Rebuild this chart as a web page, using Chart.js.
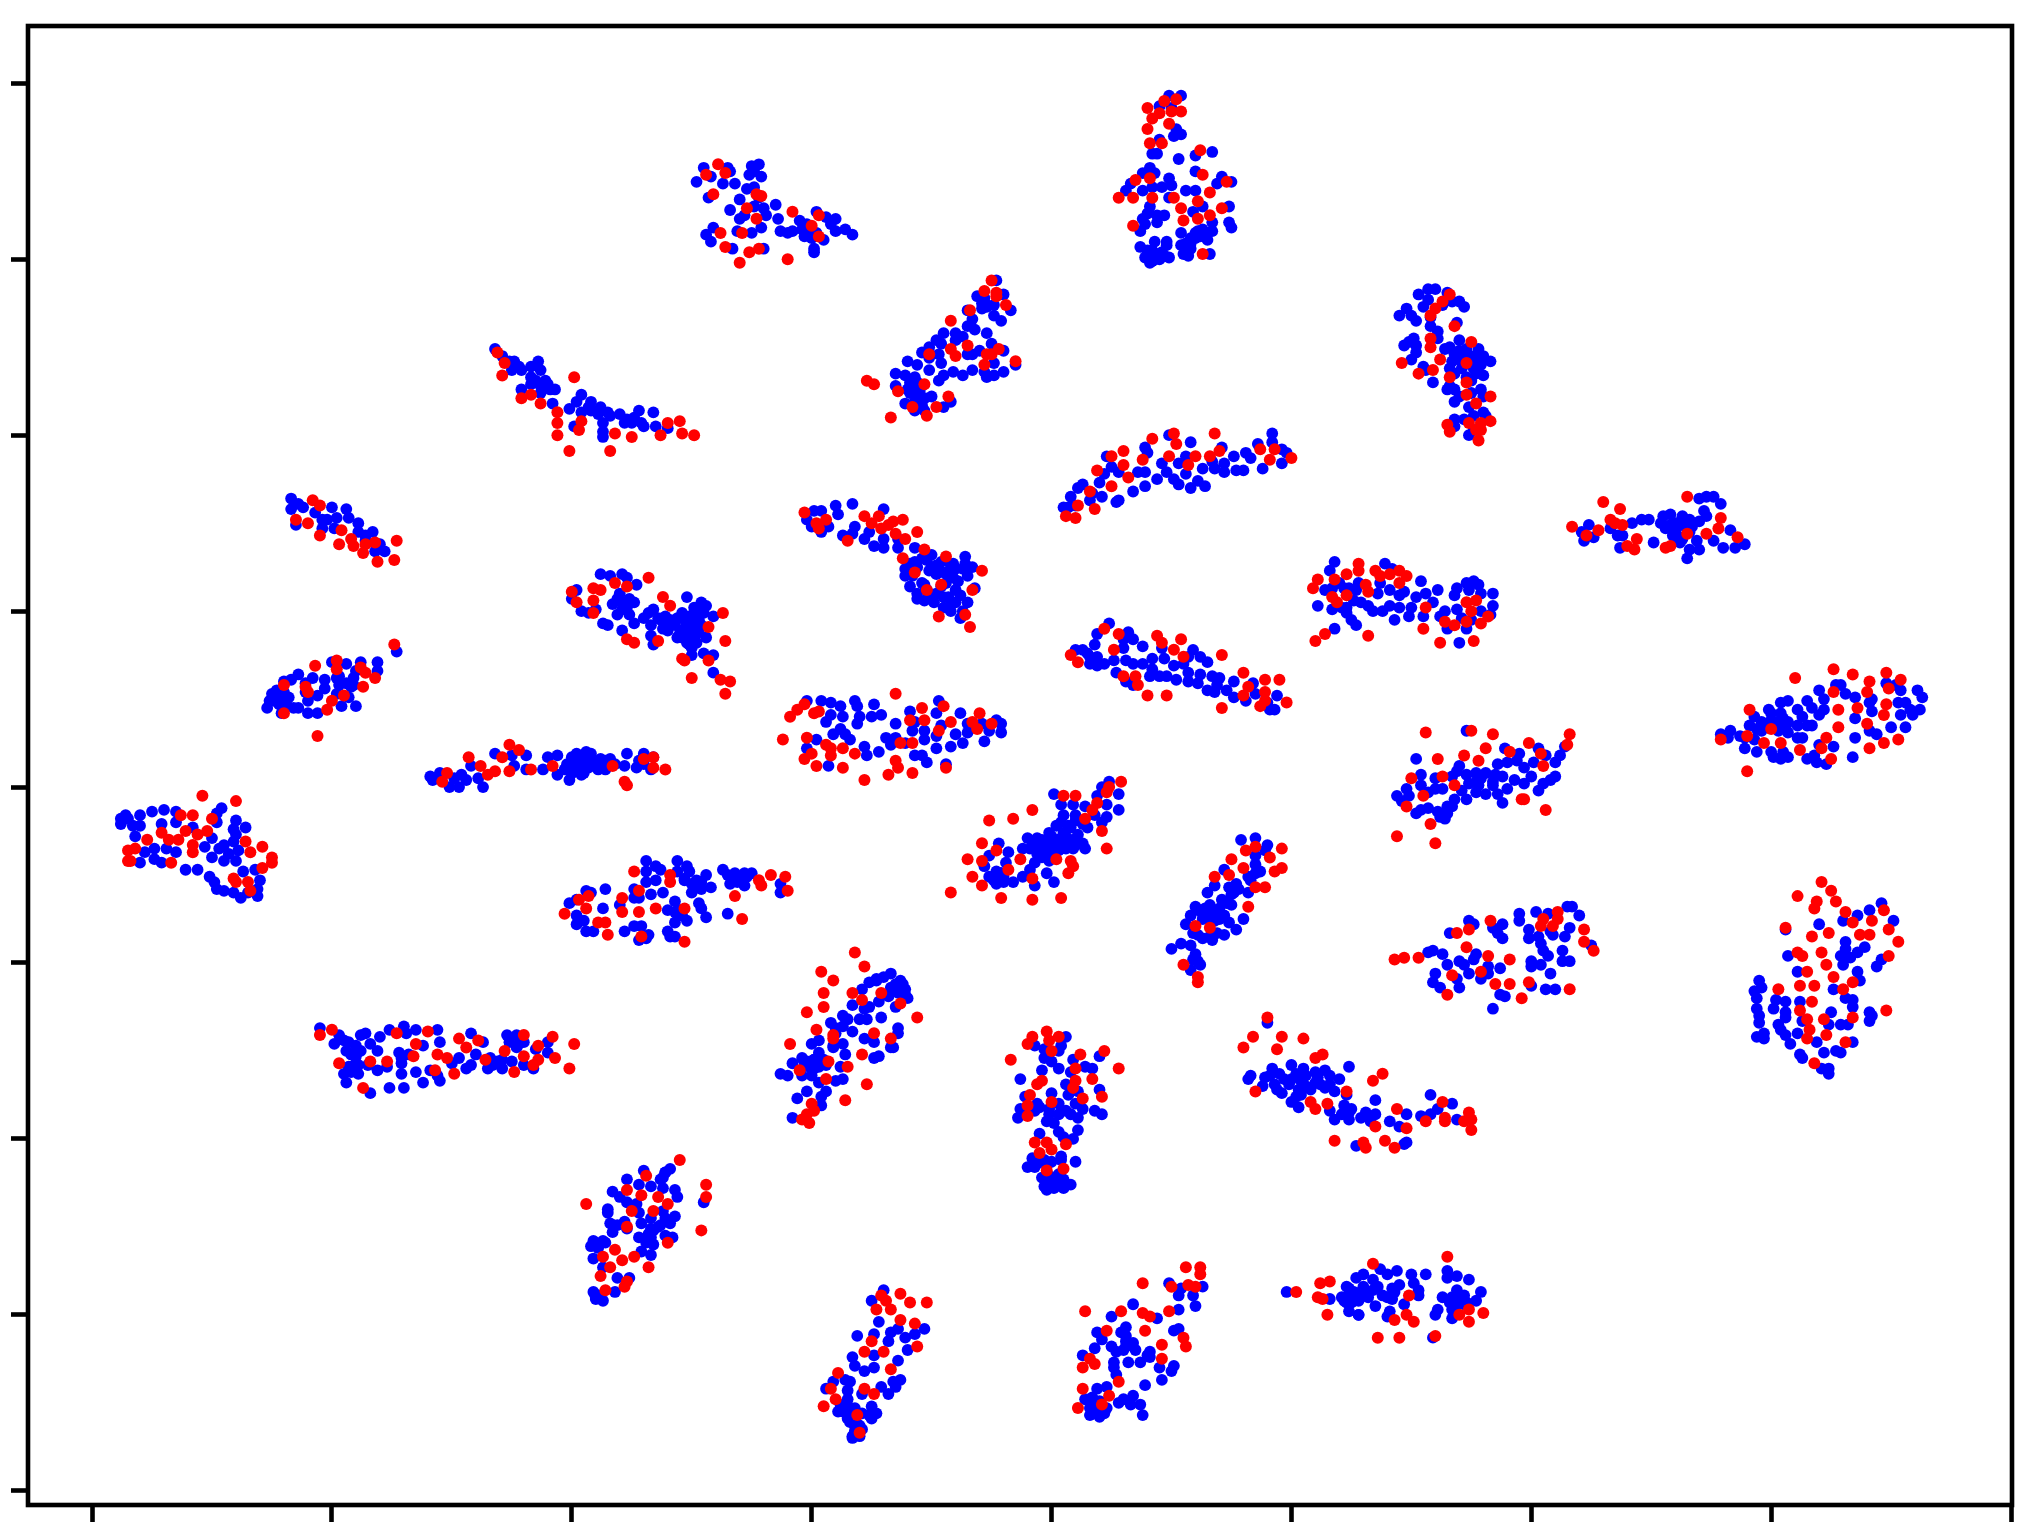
<!DOCTYPE html>
<html>
<head>
<meta charset="utf-8">
<title>Scatter</title>
<script src="https://cdn.jsdelivr.net/npm/chart.js@4/dist/chart.umd.min.js"></script>
<style>
  html, body { margin: 0; padding: 0; background: #fff; }
  canvas { display: block; }
</style>
</head>
<body>
<canvas id="grafico" width="2040" height="1536"></canvas>
<script>
/* ── Data: one X and one Y list of blue points, and x,y pairs of red points, per cluster ── */
const xTicks = [-40, -30, -20, -10, 0, 10, 20, 30, 40];
const yTicks = [-40, -30, -20, -10, 0, 10, 20, 30, 40];

const c01Bx = [-23.2,-22.9,-22.6,-22.4,-22.5,-22.1,-21.7,-21.4,-21.3,-21.7,-21.1,-21.7,-21.3,-22.1,-21.3,-20.7,-20.8,-20.1,-19.6,-19.8,-19.2,-19.6,-19.2,-18.8,-18.9,-18.4,-18,-18.7,-17.8,-17.4,-17.2,-17.5,-16.6,-17,-16.5,-16,-19.9,-18.7,-18.7];
const c01By = [24.9,24.5,24.2,24.2,23.7,23.7,23.9,24.2,23.7,23.3,23.1,22.9,22.8,22.6,22.4,22.6,21.8,21.5,22.3,21.9,21.9,21.3,21.4,21.6,21.2,21.1,21.2,20.7,20.7,21,21.4,20.7,21.3,20.5,20.5,20.4,20.5,20.2,19.9];
const c01R = [-23.1,24.7,-22.8,24.1,-22.9,23.4,-19.9,23.3,-21.7,22.3,-22.1,22.1,-21.3,21.8,-20.6,21.3,-20.6,20.7,-19.6,20.8,-19.7,20.3,-20.6,20,-18.2,20.1,-17.5,19.9,-16,20.7,-15.5,20.8,-16.3,20,-15.4,20.1,-14.9,20,-20.1,19.1,-18.4,19.1];

const c02Bx = [-31.7,-31.4,-31.7,-31.2,-31.5,-30.7,-30.4,-30,-29.4,-30.2,-29.8,-29.3,-30.4,-29.9,-28.9,-28.9,-28.6,-28.3,-28.6,-28,-28.2,-27.8];
const c02By = [16.4,16.1,15.8,15.9,14.9,15.6,15.2,15.9,15.8,15.2,15.3,15.3,14.7,14.7,15,14.5,14.3,14.5,14,13.8,13.4,13.4];
const c02R = [-30.8,16.3,-30.5,16,-31.5,15.2,-31,15,-30.5,14.3,-29.6,14.6,-29.7,13.8,-29.2,14.1,-29.1,13.7,-28.6,13.8,-28.7,13.3,-28.2,13.9,-27.3,14,-28.1,12.8,-27.4,12.9];

const c03Bx = [-27.3,-28.1,-28.1,-28.8,-29.4,-30,-29,-29.1,-29.1,-30.3,-30.8,-31.1,-31.4,-31.7,-32,-32.3,-32.5,-32.6,-32.7,-32.1,-31.8,-31.6,-31.4,-32.1,-31,-30.6,-31,-30.6,-30.3,-29.8,-29.7,-29.8,-29.3,-29.6,-29,-31.1,-29.2];
const c03By = [7.7,7.1,6.6,7.1,7,7.1,6.6,6.2,5.8,6.1,6.2,5.9,6.4,6.1,6,5.5,5.3,4.9,4.5,5,5.1,4.5,4.5,4.2,4.2,4.2,4.9,5.2,5.6,6.2,5.8,5.3,5.1,4.6,4.6,5.4,5.7];
const c03R = [-27.4,8.1,-29.8,7.2,-29.8,6.7,-30.7,6.9,-28.8,6.8,-28.6,6.5,-28.2,6.2,-28.7,5.7,-32,5.8,-31.1,5.7,-31,5.4,-29.5,5.2,-30,4.9,-30.2,4.4,-32,4.2,-30.6,2.9];

const c04Bx = [-38.8,-38.6,-38.5,-38.8,-38.3,-38,-38,-37.5,-37,-36.5,-37.1,-36.5,-35.8,-34.6,-34.8,-34.8,-34,-33.6,-34.1,-34,-35,-34.1,-34.5,-38.2,-37.4,-37.8,-38,-37.4,-37.1,-36.9,-36.5,-35.3,-34.7,-34.3,-33.9,-35,-34.5,-34,-36.1,-35.6,-35.1,-34.9,-34.8,-34.5,-34.1,-33.8,-33.7,-33.2,-33,-33.1,-33.1,-33.5];
const c04By = [-1.8,-1.6,-1.8,-2.1,-2.2,-1.6,-2.2,-1.4,-1.3,-1.4,-2.1,-2,-2.3,-1.2,-1.5,-2,-1.9,-2.3,-2.4,-2.7,-2.9,-3.1,-3.3,-2.8,-3.5,-3.7,-4.3,-4.1,-4.3,-3.5,-3.7,-3.4,-3.5,-3.8,-3.6,-4,-4.2,-4.2,-4.7,-4.7,-5.1,-5.4,-5.8,-5.9,-6,-6.3,-4.8,-4.7,-5.3,-5.8,-6.2,-6];
const c04R = [-35.4,-0.5,-34,-0.8,-36.3,-1.6,-35.8,-1.6,-35,-1.8,-36.1,-2.5,-35.2,-2.5,-35.6,-2.7,-37.1,-2.6,-36.8,-3,-36.4,-3,-37.7,-3,-38.2,-3.5,-38.5,-3.6,-35.8,-3.3,-35.8,-3.7,-38.5,-4.2,-38.4,-4.2,-36.7,-4.3,-33.6,-3.1,-32.9,-3.4,-33.4,-3.7,-32.5,-4,-32.5,-4.3,-32.9,-4.6,-34.1,-5.2,-34,-5.4,-33.5,-5.4,-33.4,-5.9];

const c05Bx = [-25.9,-25.8,-25.5,-25.1,-24.7,-24.9,-24.6,-24.4,-24.2,-23.9,-23.7,-23.2,-22.5,-21.9,-22.4,-21.9,-21.2,-21,-20.6,-20.6,-20.1,-20.2,-20,-19.8,-19.4,-19.2,-19.8,-19.5,-19.6,-19,-18.8,-18.6,-18.4,-17.8,-17.7,-17.3,-17,-16.6,-16.7,-18.2,-20.3,-19.4,-20];
const c05By = [0.6,0.4,0.8,0,0,0.5,0.7,0.4,1.2,0.5,0,1.9,1.8,1.8,1.2,1,1,1.7,1.8,0.7,0.4,1.3,1.7,1.9,2,1.9,1.2,0.8,0.7,1.3,1.6,1,1.6,1.2,1.9,1.1,1.9,1.7,1,1.3,1,1.4,0.8];
const c05R = [-25.2,0.8,-25.4,0.3,-24.3,1.7,-23.8,1.2,-23.5,0.7,-23.2,0.9,-22.9,1.7,-22.6,2.4,-22.2,2.1,-22.6,0.9,-21.7,1,-20.8,1.2,-18.3,1.2,-17,1.6,-16.6,1.7,-16.6,1.1,-16.1,1,-17.8,0.3,-17.7,0.1];

const c06Bx = [-19.8,-20,-19.6,-19.3,-19,-18.8,-18.4,-17.9,-17.7,-17.3,-18,-18.3,-17.9,-17.6,-17.4,-18.1,-18.7,-18.5,-17.9,-17.6,-17.4,-17,-16.8,-16.6,-16.7,-16.7,-16.6,-16.2,-16.4,-16.1,-15.9,-15.6,-16,-15.6,-15.3,-15.4,-15.2,-14.9,-14.6,-14.4,-14.1,-15.1,-14.7,-15.2,-14.9,-14.4,-15,-15,-14.5,-14.1,-14.1,-14.9,-14.7];
const c06By = [11.2,10.7,10,9.9,10.1,12.1,12,12.1,11.9,11.5,11,10.4,10.5,10.7,10.5,9.8,9.3,9.2,8.9,9.8,9.3,9.6,9.9,10.1,9.2,8.6,8.1,9,9.6,9.7,9.5,9.6,8.9,8.5,9,8.5,10.8,10.2,10.5,10.3,9.7,9.7,9.5,8.2,8.4,8.5,7.9,7.5,7.6,7.5,6.5,9,10];
const c06R = [-16.8,11.9,-18.2,11.6,-17.7,11.4,-19.1,11.3,-18.8,11.2,-20,11.1,-19.8,10.5,-19.1,10.6,-19.1,9.9,-16.2,10.8,-15.9,10.3,-13.7,9.9,-14.3,9.1,-13.6,8.3,-16.4,8.3,-17.7,8.4,-17.4,8.2,-15.4,7.3,-15.3,7.2,-14.3,7.2,-15,6.2,-13.8,6.1,-13.4,6,-13.6,5.3];

const c07Bx = [-14.5,-13.5,-13.4,-14.2,-14.8,-13.7,-13.2,-12.5,-12.2,-12.4,-12.6,-12.1,-14.3,-12.7,-12.4,-13,-12.2,-11.5,-13.4,-12,-11.9,-12.4,-13,-12.8,-12.1,-14.1,-14.4,-14.2,-13.1,-12.5,-13.3,-12,-11.4,-11.3,-10.8,-10.5,-10.4,-10.2,-9.8,-9.4,-9,-9.2,-9,-8.6,-8.3,-9.5,-9.9,-9.9,-10.3,-11];
const c07By = [35.2,35.2,35,34.7,34.4,34.3,34.3,35.3,35.4,35,34.8,34.7,33.5,34,34.1,33.4,33.5,33.1,32.8,32.9,32.5,33,32.3,32.5,31.8,31.8,31.4,31,31.6,31.5,30.6,30.6,32.3,31.6,31.6,32.2,31.7,32,32.7,32.4,32.3,32,31.6,31.7,31.4,31.1,30.6,30.4,31.3,31.5];
const c07R = [-13.9,35.4,-14.4,34.8,-13.6,34.9,-14.1,33.7,-12.3,33.7,-12.1,33.6,-12.7,32.9,-12.3,32.3,-10.8,32.7,-9.7,32.5,-10,31.9,-9.7,31.3,-13.8,31.5,-12.9,31.5,-13.6,30.7,-12.2,30.6,-12.6,30.4,-13,29.8,-11,30];

const c08Bx = [4.9,5.4,5,4.5,5.2,5.4,5.1,4.5,4.2,4.4,5.3,6,6.7,4.1,3.8,4.3,6,4.9,7.1,7.5,6.9,3.3,3.1,4.2,4.6,5,3.8,5.6,6,4.9,6.3,7.4,4.1,4,3.8,4.7,4.4,5.9,4.4,3.9,3.7,5.4,7.4,7.5,6.7,6.3,6.7,6.5,6.2,5.8,4.3,4.8,3.7,4,4.2,4.8,4.9,4.5,4.1,3.9,5.4,5.8,5.7,6.6];
const c08By = [39.3,39.3,38.6,38.7,37.4,37.1,37,36.8,36,36,35.7,35.9,36.1,35.2,34.9,34.9,35,34.6,34.7,34.4,34.3,34.3,33.9,34.1,34.1,34.2,33.9,33.9,33.9,33.5,33,33,33,32.6,32.3,32.5,32.5,32.7,32.1,32,31.6,31.5,32.1,31.8,32.1,31.7,31.6,31.1,31.3,31.2,31,31,30.7,30.5,30.2,30.8,30.1,30,29.8,30.1,30.8,30.6,30.2,30.3];
const c08R = [4.7,39,5.2,39.1,4,38.6,4.5,38.3,4.2,38,5,38.4,5.4,38.4,4.9,37.7,4,37.4,4.1,36.6,4.6,36.6,6.2,36.2,6.3,34.8,3.5,34.5,4.1,34.6,7.3,34.4,6.6,33.8,2.8,33.5,3.4,33.5,4.2,33.5,5.1,33.5,6.1,33.3,5.4,32.9,7.1,32.9,5.5,32.2,6.1,32.3,6.6,32.5,3.4,31.9,6.3,30.3];

const c09Bx = [-2.3,-2,-3.1,-2.8,-2.7,-3.5,-2.9,-2.4,-2.4,-1.7,-2.1,-3.3,-3.5,-3.2,-2.7,-4.5,-4,-3.7,-4,-4.8,-4.6,-2.5,-5.1,-5.4,-3,-2,-4.7,-5.1,-3.5,-3.3,-6,-5.6,-4.6,-5.1,-2.4,-1.5,-4.7,-4.5,-4.1,-3.7,-3.3,-2.8,-2.7,-2.4,-2,-6.5,-6.1,-5.7,-6.5,-5.9,-5.4,-5.9,-5.6,-5,-6.1,-5.4,-5.3,-5.7,-4.5,-4.2];
const c09By = [28.8,28,27.9,27.8,27.4,27.1,27.2,27.4,26.8,27.1,26.5,26.6,26.2,26,25.8,25.8,25.8,25.6,25.4,25.4,25.2,25.2,25,24.7,24.8,24.8,24.6,24.4,24.6,24.6,24.2,24,24.1,23.7,24.1,24,23.1,23.4,23.6,23.4,23.7,23.6,23.3,23.4,23.6,23.5,23.4,23.3,22.8,22.8,22.8,22.4,22.2,22.2,21.8,21.7,21.4,21.4,21.6,21.9];
const c09R = [-2.5,28.8,-2.8,28.2,-2.3,28.1,-2.3,27.9,-1.9,27.4,-3.4,27.1,-4.2,26.5,-3.5,25.1,-4.2,24.9,-4,24.5,-5.1,24.6,-2.2,24.9,-2.5,24.6,-2.7,24.6,-2.8,24,-1.5,24.2,-7.7,23.1,-7.4,22.9,-5.3,22.9,-6.4,22.5,-4.3,22.2,-5.8,21.6,-4.8,21.6,-5.2,21.1,-6.7,21];

const c10Bx = [9.2,8.6,7.1,5.8,4.9,3.9,4,2.3,7.6,8.1,8.3,9.6,9.2,9.6,9.8,5.6,4.6,5.3,6.3,6.7,6.8,7.2,7.2,7.7,8,8.8,2.5,2.8,2.2,2,3.6,3.9,4.8,5.6,5.1,5.3,5.8,6.4,6.1,4.4,3.9,3.4,2.8,2.7,1.3,1.1,0.8,0.5,1.7,2.1,1.6,1,0.7];
const c10By = [20.1,19.5,19.3,19.6,20,19.3,19,18.8,18.8,19,18.7,18.4,19.6,19.2,19,18.8,18.4,18.4,18.1,18.5,18.1,18.4,17.9,18,18,18.1,18.2,17.9,17.8,17.3,17.9,17.9,17.9,17.8,17.5,17.2,17,17.1,17.4,17.5,17.1,16.8,16.3,16.2,17.2,17,16.5,15.9,16.7,16.5,16.3,16,15.9];
const c10R = [5.1,20.1,6.8,20.1,4.2,19.8,5.2,19.5,3,19.1,2.5,18.8,4.9,18.8,6,18.8,6.6,18.8,7,19.1,8.7,19.2,9.3,19.2,10,18.7,9.1,18.6,3.8,18.6,3,18.3,5.7,18.3,1.9,18,3.2,17.6,2.5,17.1,1.6,16.8,1.1,16,1.8,15.8,0.6,15.4,1,15.3];

const c11Bx = [-9,-8.3,-7,-9.9,-9.6,-8.9,-10.2,-9.3,-10,-9.6,-8.2,-8.7,-8.3,-7.6,-7.8,-7,-7.4,-7,-6.4,-6.4,-5.7,-5,-5.7,-5.4,-6.1,-6.1,-5,-4.6,-4.2,-3.6,-3.7,-3.3,-4.8,-4.3,-3.5,-5.4,-5.9,-5.6,-5.3,-4.9,-4.6,-4,-4.5,-4.2,-3.5,-3.2,-3.7,-4.2,-3.8,-5.2];
const c11By = [16,16.1,15.8,15.7,15.7,15.5,15.2,14.8,14.8,14.5,14.8,14.3,14.4,14.5,14.1,14.1,13.7,13.6,14.1,13.6,13.6,13.2,12.8,13,12.4,12,12.5,12.8,12.6,13.1,12.4,12.5,12.1,12,12,11.6,11.4,10.7,10.6,10.5,11.4,11.2,10.8,10.4,10.5,11.3,10,10,9.6,11.2];
const c11R = [-10.3,15.6,-9.8,15,-9.4,15.2,-9.7,14.7,-8.5,14,-7.8,15.4,-7.5,15,-7.2,15.4,-7.1,14.7,-6.8,14.9,-6.6,15.1,-6.2,15.2,-6.5,14.4,-5.6,14.5,-6.1,14.1,-5.3,13.5,-6.2,13,-4.4,13.1,-5.7,12.2,-2.9,12.3,-4.6,11.5,-5.2,11.2,-3.3,11.2,-3.6,9.8,-4.7,9.7,-3.4,9.1];

const c12Bx = [15.3,15.7,16,16.5,15.7,15.5,16.3,16.7,17,17.2,14.5,14.8,15,15.2,15.8,15.8,16.1,16.1,16.9,15.1,14.9,14.7,15.2,15.2,15,17,16.4,16.6,17.8,16.8,17.2,17.5,18,18.3,16.7,17.9,16.6,16.8,15.5,15.6,15.9,17.7,18,17.3,17.5,16.6,16.8,16.5,17.9,17.5,18,17,16.8,17.4,18,17.6,18.1,16.8,17.2,16.8,17.4,17.6];
const c12By = [28,28.3,28.3,28.1,27.7,27.3,27.4,27.6,27.6,27.3,26.8,27.2,26.8,26.5,26.7,26.2,25.9,25.5,26.4,25.5,25.3,25.1,25.1,24.7,24.3,25.4,24.9,25,24.9,24.6,24.7,24.5,24.5,24.2,24.2,24,23.8,23.5,23.9,23.7,23,23.5,23.4,23.3,23.1,22.8,22.6,22.6,22.6,22.4,22.2,22.2,21.9,21.6,21.3,21.1,21.1,20.9,20.9,20.5,20,20.3];
const c12R = [16.6,28,16.3,27.6,16,27.2,15.8,26.8,16.8,26.2,15.8,25.5,15.8,25,17.5,25.3,16.2,24.3,14.6,24.1,17.3,24.1,15.9,23.7,15.3,23.5,16.6,23.3,17.3,23,17.3,22.3,18.3,22.2,17.7,21.8,17.4,20.7,18.3,20.8,17.9,20.7,16.5,20.6,16.6,20.2,17.7,20.3,17.9,20.3,17.8,19.7];

const c13Bx = [27,27.3,27.6,27.9,27.2,27.3,25.5,25.8,26.3,25.4,24.2,24.6,24.9,25.6,26.1,26.6,27,26,26.5,26.9,26.2,26.6,27,26.5,28.3,27.6,28,28.5,28.9,25.1,23.7,22.4,22.1,22.2,22.6,23.3,23.6,23.8,26.2];
const c13By = [16.4,16.5,16.5,16.1,15.7,15.4,15.4,15.5,15.4,15,15,15.2,15.2,14.7,15,15.2,15.1,14.5,14.7,14,13.9,13.5,13.5,13,14.6,14,13.6,13.6,13.8,13.9,13.6,14.9,14.5,14,14.2,14.7,14.3,14.3,14.2];
const c13R = [26.5,16.5,23,16.2,23.7,15.8,23.3,15.2,23.5,15,23.8,14.9,21.7,14.8,22.8,14.6,22.3,14.3,24.4,14.1,24,13.7,24.3,13.5,25.6,13.6,25.8,13.7,26.5,14.4,27.3,14.4,27.8,14.7,27.9,15.3,28.6,14.2];

const c14Bx = [11.8,11.6,12,11.7,11.4,12.2,12.4,12.8,12.7,11.1,11.7,12.1,12.3,12.6,12.9,13.2,12.3,12.5,12.7,13.4,13.9,14.2,13.7,13.6,14.1,14.1,13.8,14.5,14.7,14.5,15,14.3,14.9,15.2,15.4,15.6,15.9,16.1,15.5,16.2,16.4,16.9,16.8,16.9,17.3,17.6,17.8,17.9,17.4,18.4,18.4,17.9,18.3,17.1,17.5,16.5,17.3,17,11.8];
const c14By = [12.8,12.3,11.6,11.3,11.2,11.3,11.3,11.6,11.2,10.3,10.1,10.2,10.2,10.6,10.5,10.3,9.9,9.5,9.2,10,12.7,12.4,11.6,11,11.2,10.3,10,10.9,11.1,10.2,10.2,9.5,9.7,10.8,11.7,11,10.5,11.2,9.7,9.7,10,10.1,10.9,11.3,11.6,11.7,11.5,11,11.2,11,10.3,10,9.8,9.6,9.5,9,9,8.2,9];
const c14R = [12.8,12.7,12.8,12.3,12.3,12.1,11.1,11.8,11.8,11.8,10.9,11.3,13.5,12.3,13.7,12,14.1,12.1,14.5,12.3,14.8,12,14.5,11.6,13.1,11.5,13.2,11.1,11.7,10.8,11.9,10.5,12.3,10.9,15.6,10.2,17.3,10.5,17.7,10.6,17.5,10,18.2,9.7,17.9,9.3,17.3,9.4,16.8,9.2,16.4,9.4,15.5,9,13.2,8.6,11.4,8.7,11,8.3,16.2,8.2,17.6,8.3];

const c15Bx = [2.4,1.9,3.2,3,3.4,3.8,3,1,1.3,1.8,1.6,1.9,1.5,2.6,2.2,1.9,1.6,3.1,3.4,3.8,4.2,4.7,4.6,5.1,5.9,6.2,6.5,5.7,5.5,2.7,4.2,4.1,4.5,4.8,5.2,5.7,5.7,6.2,6.1,6.5,6.7,7,6.9,6.8,7.6,7.3,7.6,3.1,3.4,8.4,8.1,8.5,9.4,9.1,9.3,9];
const c15By = [9.3,8.7,8.8,8.4,8.4,8,7.9,7.8,7.8,8.1,7.4,7.4,7.6,7.2,7,6.9,7,7.2,7,7,7.3,7.3,7.9,6.9,7.8,7.4,7.1,7.4,7,6.5,6.7,6.3,6.3,6.3,6.1,6.5,6,6.4,5.9,5.5,6.3,6.2,5.8,5.4,6,5.5,5.1,6,5.8,5.9,4.9,5.3,5.2,4.4,4.4,4.8];
const c15R = [2.2,9,2.8,8.7,2.6,7.8,0.8,7.5,1.1,7.1,4.4,8.6,4.6,8.2,5.4,8.4,5.1,7.8,5.5,7.4,7.1,7.5,3,6.3,3.5,6.3,3.6,5.8,4,5.2,4.8,5.2,7.1,4.5,8,6.5,8.2,5.7,8,5.2,8.9,6.1,9.5,6.1,8.9,5.4,8.9,4.9,8.7,4.6,9.8,4.8];

const c16Bx = [-10.2,-9.6,-9.2,-8.8,-8.2,-8.1,-7.4,-7.1,-7.5,-8,-8.7,-9.2,-9.4,-8.1,-8.8,-9.1,-8.6,-8.4,-9.8,-10.2,-7.8,-7.7,-7.2,-9.3,-6.5,-6.9,-6.5,-6.7,-5.9,-5.7,-5.8,-5.3,-4.7,-4.8,-4.6,-4.8,-5.3,-4.8,-4.2,-3.8,-3.5,-3.5,-4,-3.7,-2.9,-2.6,-2.3,-2.1,-2.1,-2.8,-5.7,-5.4,-5.2,-4.4,-6.1];
const c16By = [4.9,4.9,4.8,4.6,4.9,4.6,4.7,4.1,4,4,4,4.1,3.7,3.6,3.3,3,3,2.7,2.7,2.2,2.3,1.8,2,1.2,3.6,2.8,2.8,2.4,4.3,3.7,3.2,3.2,4.9,4.2,3.5,2.9,2.7,2.2,2.3,4.2,3.6,3.1,3,2.5,3.6,3.2,3.8,3.6,3.1,2.6,1.8,1.8,1.4,1.3,2.5];
const c16R = [-6.5,5.3,-10.3,4.7,-10.6,4.4,-9.9,4.2,-9.7,4.3,-10.9,4,-5.4,4.5,-4.5,4.6,-5.9,3.8,-5.3,3.8,-4.2,3.7,-4.7,3.2,-3,4.2,-3.3,3.7,-3.1,3.3,-2.5,3.6,-11.2,2.7,-10.2,2.8,-9.4,2.4,-9.2,2.2,-8.7,2.2,-9.2,1.8,-8.2,1.9,-10,1.9,-10.3,1.6,-9.8,1.2,-8.7,1.1,-6.3,2.5,-5.8,2.5,-6.5,1.5,-6.4,1.1,-6.8,0.7,-5.8,0.8,-7.8,0.4,-4.4,1.1];

const c17Bx = [2.4,2.1,2.8,1.9,2.3,2.8,0.1,0.4,0.9,1.4,1.8,2.3,2.1,0.5,1,0.4,0.2,0.8,1.5,1.1,1.3,1.4,-0.1,-1,-0.6,-1.2,-0.2,0.1,0.6,0.5,1,-0.7,-0.4,0.3,0.6,-0.2,-0.6,0.1,-0.1,-0.7,-2.2,-1.8,-2.6,-1.9,-2.8,-2.3,-2.1,-2.6,-2.3,-2,-1.6,-1.2,-0.9,-0.7,-0.2,0.1];
const c17By = [0.3,0,-0.4,-0.5,-1,-1.3,-0.4,-1,-1,-1.1,-1.6,-1.7,-2,-1.6,-1.6,-2,-2.2,-2.3,-2.3,-2.7,-3.2,-3.5,-2.6,-2.9,-2.9,-3.5,-3.1,-3,-2.8,-3.2,-3.3,-3.4,-3.6,-3.6,-3.5,-3.8,-3.8,-3.9,-4.2,-4.3,-3.2,-3.7,-3.9,-4.3,-4.5,-4.8,-4.9,-5.1,-5.5,-5.4,-5.4,-5.1,-4.7,-5.6,-4.9,-5.4];
const c17R = [2.9,0.3,2.4,0,2.3,-0.3,0.5,-0.5,1,-0.5,1.9,-0.9,1.7,-1.3,1.4,-1.8,-0.8,-1.3,-1.6,-1.8,-2.6,-1.9,2.1,-2.5,2.3,-3.5,-2.9,-3.2,-2.3,-3.6,-3.5,-4.1,-2.9,-4.2,-1.3,-4.1,0.2,-4.1,0.8,-4.2,0.9,-4.5,-1.8,-4.7,0.7,-4.9,-3.3,-5.1,-0.8,-5.2,-2.9,-5.6,-4.2,-6,-2.1,-6.3,-0.8,-6.4,0.4,-6.3];

const c18Bx = [7.9,8.5,9,8.9,8.5,8.5,8.7,7.2,8.2,7.7,7.4,6.8,6.5,7.6,8.2,7.1,7.5,6.6,6,5.8,6.3,6.8,7.2,6.8,8,5.6,5.9,6.3,6.7,7.2,7.4,7.7,5.4,5,5.8,6,6.2,5.8];
const c18By = [-3,-2.9,-3.3,-3.6,-3.9,-4.4,-4.8,-4.7,-5.1,-5.5,-5.7,-5.6,-6,-6,-6,-6.4,-6.7,-6.7,-6.8,-7.3,-7.2,-7.2,-7.3,-7.6,-7.5,-7.8,-8.3,-8.6,-8.7,-8.4,-7.7,-8.1,-8.9,-9.2,-9,-9.5,-10.1,-10.4];
const c18R = [8.5,-3.4,8.1,-3.6,9.6,-3.5,7.5,-4.1,9.1,-4,8,-4.6,9.6,-4.6,9.3,-4.8,6.8,-5.1,7.4,-5,8.5,-5.7,8.9,-5.7,8.2,-6.8,6,-7.9,6.6,-8,5.5,-10.1,6.1,-10.8,6.1,-11.1];

const c19Bx = [17.3,18.9,15.2,17,16.9,16,15.4,15.4,16,16.3,14.8,14.4,14.6,14.9,15.7,16.7,17.3,17.7,18.1,18.5,18.8,19.3,18.6,19,19.5,19.4,19.7,20.1,20.3,20.6,21.4,21.2,21,20,19.7,21,20.8,20.5,20.3,17.7,17.4,17.1,17.7,18.1,18.4,18.6,19,18.8,17.3,16.8,16.7,16.5,16.1,16.4,15.7,15.2,15.4];
const c19By = [3.2,2.2,1.6,1.2,0.9,0.5,0.7,0.1,-0.1,-0.1,-0.1,-0.5,-0.8,-0.5,-0.3,0.6,0.7,0.8,0.8,0.7,0.6,0.4,1.3,1.4,1.9,1.5,1.1,1.4,2.2,1.8,2.3,1.8,1.4,0.6,0.2,0.6,0.4,0.2,-0.2,0.3,0.2,-0.2,-0.3,-0.4,0.1,-0.4,-0.1,-0.9,-0.7,-0.7,-1.1,-1.1,-1.4,-1.8,-1.2,-1.5,-1.3];
const c19R = [15.6,3.1,17.5,3.2,18.4,3,21.6,3,21.5,2.4,19.9,2.5,18.1,2.2,17.2,1.8,16.1,1.6,17.8,1.5,19.1,2,20.4,1.9,20.5,1.2,15,0.5,16.3,0.6,16.8,0.1,15.5,-0.5,14.8,-1.1,19.6,-0.7,19.7,-0.7,20.6,-1.3,15.8,-2.1,14.4,-2.8,16,-3.2];

const c20Bx = [32.7,32.9,33.1,33.5,32,32.2,31.5,31.7,32.2,32,30.4,30.7,31.1,29.9,30,29.3,30.4,31.3,31.5,31.7,29.1,29.6,29.9,30.3,30.7,31.1,29.6,30.3,30.7,31.1,31.3,27.9,28.3,28.2,28.7,28.9,28.9,29.4,29.3,30,30.1,30.4,30.7,30.5,31.5,31.8,31.9,32.3,32,32.6,33.4,33.5,34.1,34.4,35,35.6,33.5,34.2,34.1,34.2,35.3,35.6,35.4,35.9,36.2,35.8,36.1,36.3,35.4,34.8,35.2];
const c20By = [5.8,5.8,5.3,5.1,5.5,5,4.9,4.5,4.4,4.1,4.8,4.9,4.4,4.4,4.2,4,4.2,4,3.5,3.5,3.5,3.7,3.6,3.7,3.7,3.5,3.2,3.2,3.1,2.8,2.8,3,3.2,2.8,2.9,2.8,2.2,2,2.7,2,1.7,1.6,1.7,2,1.6,1.8,1.4,1.3,2.4,2.3,1.7,2.8,3.2,3,3.4,3.4,3.9,4.3,4.8,5,4.8,4.8,4.1,4.1,4.4,4.4,5.5,5.1,5.5,5.9,5.8];
const c20R = [32.6,6.7,33.4,6.4,31,6.2,34.8,6.5,35.4,6.1,34.1,6,34.9,5.6,34,5.4,32.6,5.4,34.8,4.7,33.6,4.5,32.8,4.4,29.1,4.4,34.7,4.1,34,3.6,32.8,3.4,30,3.3,29,2.9,27.9,2.7,29.7,2.5,30.4,2.5,32.3,2.8,32.1,2.2,31.2,2.1,34.1,2.2,34.7,2.5,35.3,2.7,32.5,1.6,29,0.9];

const c21Bx = [21.5,21.7,22,20.7,20.2,19.5,19.5,17.4,17.6,18.8,18.4,18.6,18.8,19.9,19.9,20.3,20.4,20.5,20.7,21.6,21.4,20.9,20.8,21.3,21.3,21.6,22.5,16.6,15.7,15.9,16.3,16.5,17,17.2,17.7,17.6,17.4,16,15.9,16.2,16.9,17,17.9,18.2,18.2,18.7,20,20,20.4,20.8,20,20.6,21,18.7,18.9,18.4];
const c21By = [-6.8,-6.8,-7.3,-7.2,-7.1,-7.2,-7.6,-7.6,-7.8,-7.8,-8,-8.3,-8.6,-8.1,-8.6,-8.5,-8.9,-9.3,-9.6,-8,-8.5,-8.4,-8.2,-9.3,-9.9,-9.9,-9,-8.3,-9.4,-9.3,-9.5,-10.1,-9.9,-10.1,-9.5,-9.8,-10.6,-10.6,-11.1,-11.4,-10.9,-11.4,-10.9,-10.2,-10.6,-10.3,-9.9,-10.2,-10.1,-10.6,-11.3,-11.5,-11.5,-11.8,-11.9,-12.6];
const c21R = [21.1,-7.1,20.5,-7.5,21.1,-7.5,20.4,-7.9,20.9,-7.9,18.3,-7.6,17.4,-8.1,16.9,-8.3,22.2,-8.1,22.2,-8.8,22.6,-9.3,14.3,-9.8,14.7,-9.7,15.3,-9.7,17.3,-9.1,18.2,-9.6,19.1,-9.8,17.9,-10.5,16.7,-10.7,18.5,-11.2,19.1,-11.2,19.9,-11.1,21.6,-11.5,19.6,-12,16.5,-11.8];

const c22Bx = [34.6,34.1,33.6,35.1,33,32,30.6,33.1,33.1,33.9,33.6,32.9,33.3,34.6,34.4,33,30.7,31.1,33.6,33.7,32.6,29.5,29.6,29.3,29.4,29.4,29.5,29.5,30.2,30.6,30.1,30.6,30.6,31.2,32.5,33.1,33.4,33.4,31.3,34.1,34.2,34.1,30.3,30.4,30.6,31.1,30.8,32.4,32.9,33.2,31.9,33.4,32.2,32.7,32.9,31.2,31.3,29.7,29.4,29.7,32.1,32.4,32.4];
const c22By = [-6.6,-7,-7.3,-7.6,-7.6,-7.8,-8.1,-8.8,-9.2,-9.1,-9.4,-9.6,-9.7,-9.8,-10.2,-10.1,-9.6,-10.5,-10.5,-11,-11.5,-11,-11.4,-11.6,-12,-12.6,-13,-13.4,-12.1,-12.2,-12.6,-12.8,-13.1,-12.2,-12.8,-12,-12.1,-12.5,-13.3,-12.8,-13,-13.3,-13.5,-13.8,-14.1,-14,-14.6,-13.5,-13.5,-13.5,-14.5,-14.5,-15.1,-15,-15.1,-15.2,-15.4,-14,-14.2,-14.3,-16,-16,-16.3];
const c22R = [32.1,-5.4,32.5,-5.9,31.1,-6.2,31.9,-6.5,31.8,-6.9,32.7,-6.5,33.1,-7.1,34.7,-7,33.4,-7.7,34.2,-7.6,34.9,-8.1,30.6,-8,31.7,-8.5,32.4,-8.3,33.7,-8.4,34.1,-8.4,35.3,-8.8,31.1,-9.4,31.3,-9.6,32.1,-9.4,34.9,-9.6,32.3,-10.1,31.5,-10.5,32.6,-10.8,33.4,-11.1,31.2,-11.3,31.8,-11.3,30.3,-11.5,33,-11.5,31.7,-12.2,31.2,-12.7,34.8,-12.7,31.5,-13.2,32.2,-13.2,33.4,-13.1,31.6,-13.8,32.3,-14.1,31.5,-14.3,33.1,-14.5,31.8,-15.7];

const c23Bx = [-16.9,-15.6,-16.5,-16.3,-16.9,-15.2,-15.1,-14.4,-15.6,-16.5,-16.9,-15.3,-14.8,-14.6,-15,-14.2,-13.7,-13.5,-13.2,-12.8,-12.5,-13.4,-12.8,-11.3,-11.3,-19.4,-19.2,-18.6,-20.1,-19.8,-17.4,-17.4,-17.2,-16.7,-16.2,-18,-18.7,-19.8,-19.5,-19.8,-19.4,-19.1,-17.8,-17.4,-17.1,-17.2,-16.8,-16,-15.7,-15.7,-14.7,-14.6,-14.4,-13.5,-15.7,-15.2,-16,-15.9,-15.7,-16.9];
const c23By = [-4.2,-4.2,-4.5,-4.7,-4.8,-4.5,-4.8,-5,-4.8,-5.3,-5.4,-5.3,-5.3,-5.8,-6,-5.7,-4.7,-5,-4.9,-4.9,-4.9,-5.5,-5.6,-5.5,-6,-5.9,-6,-5.8,-6.6,-6.4,-5.8,-6.3,-6.3,-6.1,-6,-6.7,-6.9,-7.3,-7.6,-7.8,-8.2,-8.2,-8.2,-7.9,-7.9,-8.7,-8.4,-7,-6.5,-7.1,-6.6,-6.9,-7.4,-7.2,-7.7,-7.6,-8.2,-8.5,-8.5,-8.6];
const c23R = [-17.4,-4.8,-15.9,-5,-15.9,-5.4,-17.2,-5.9,-12.2,-5.3,-11.7,-5,-11.1,-5.1,-12.1,-5.6,-11,-5.9,-13.2,-6.2,-19.7,-6.4,-19.3,-6.2,-19.4,-6.9,-17.9,-6.3,-17.9,-7.1,-17.2,-7.1,-16.5,-6.9,-15.3,-6.9,-20.3,-7.2,-18.9,-7.7,-18.6,-7.7,-18.5,-8.4,-17.1,-8.5,-15.3,-8.8,-12.9,-7.5];

const c24Bx = [-30.5,-29.7,-29.5,-29.9,-29.4,-29,-28.8,-28.8,-28.6,-28,-28.4,-28.1,-27.6,-27,-26.9,-26.5,-25.6,-25.5,-26.2,-27.2,-26.8,-27.1,-27.1,-29.5,-29.4,-29,-29.2,-28.9,-28.5,-28.1,-27.7,-28.4,-27.6,-27,-26.5,-26.2,-25.9,-25.5,-25.6,-25,-24.7,-24.4,-24.2,-24,-23.5,-23.7,-24.2,-23.4,-22.9,-22.9,-22.5,-22.7,-22.3,-22,-22.3,-22,-21.6,-21.5,-21,-21];
const c24By = [-13.7,-14.1,-14.4,-14.6,-15,-14.7,-15,-14.1,-14,-14.2,-14.6,-15,-13.8,-13.6,-14,-13.8,-13.8,-14.5,-14.7,-15.1,-15.2,-15.7,-16.3,-16.3,-16.8,-15.7,-15.9,-16.3,-15.8,-16.1,-15.9,-17.4,-17.1,-17.1,-16.2,-16.8,-16.1,-16.7,-16.4,-15.7,-15.4,-16,-15.8,-15.2,-16,-14.5,-14,-15.4,-15.5,-16,-15.6,-14.1,-14.1,-14.5,-14.8,-15.8,-16,-14.9,-14.5,-15.1];
const c24R = [-30.5,-14.1,-30,-13.8,-27.3,-14,-26,-13.9,-26.5,-14.6,-29.7,-15.7,-28.4,-15.6,-27.7,-15.6,-26.6,-15.3,-25.6,-15.2,-25.2,-15.4,-25.7,-16.1,-24.9,-16.3,-28.7,-17.1,-24.7,-14.3,-24.4,-14.8,-23.9,-14.4,-23.6,-15.5,-22.8,-15,-22,-14.1,-22,-15.3,-21.4,-14.7,-21.4,-15.5,-21.6,-15.8,-22.4,-16.2,-20.8,-14.2,-20.7,-15.4,-19.9,-14.6,-20.1,-16];

const c25Bx = [-6.7,-7,-7.3,-7.6,-7.9,-7.3,-6.3,-6.4,-6.1,-6,-6.8,-6.5,-7.2,-7.6,-8.3,-7.8,-8.7,-8.5,-9.2,-9,-8.7,-8.3,-7.1,-8,-7.7,-6.4,-6.4,-7.8,-7.4,-9.7,-10,-8.7,-9.1,-8.6,-6.7,-6.6,-7.2,-7.4,-9.7,-9.9,-10.4,-10.8,-10.3,-9.9,-9.4,-8.8,-11.3,-11,-10.4,-10,-9.7,-9,-8.7,-9.4,-9.6,-10.2,-10.6,-9.6,-10.8];
const c25By = [-10.6,-10.8,-10.9,-11.1,-11.5,-11,-11,-11.4,-11.5,-12,-11.9,-12.5,-12.2,-12.5,-12.4,-12.6,-13,-13.2,-13.4,-13.7,-13.6,-13.9,-13.1,-13.2,-13.2,-13.7,-14,-14.3,-14.5,-14.4,-14.6,-14.6,-14.8,-15.2,-14.8,-14.8,-15.3,-15.4,-15.1,-15.5,-15.4,-15.7,-15.8,-16,-15.8,-15.9,-16.3,-16.4,-16.4,-16.4,-16.8,-16.7,-16.6,-17.3,-17.6,-17.3,-17.7,-18.1,-18.8];
const c25R = [-8.2,-9.4,-7.8,-10.2,-9.6,-10.5,-9.1,-11,-9.5,-11.7,-8.3,-11.7,-7.1,-11.7,-7.9,-12.1,-6.3,-12.3,-9.5,-12.5,-10.2,-12.8,-5.6,-13.1,-9.8,-13.8,-7.4,-14,-9.1,-14.1,-9.1,-14.3,-6.7,-14.3,-10.9,-14.6,-7.9,-15.2,-9.3,-15.6,-8.5,-15.9,-10.5,-16.1,-9.4,-16.6,-7.7,-16.9,-8.6,-17.8,-10,-18,-9.9,-18.4,-10.2,-18.6,-10.4,-18.9,-10.1,-19.1];

const c26Bx = [-17,-15.9,-16.1,-16.3,-17.7,-17.2,-16.7,-16.2,-15.7,-18.3,-18,-17.7,-17.3,-15.6,-18.5,-18.5,-17.2,-16.7,-16.2,-15.7,-15.9,-16.3,-17.1,-17.8,-18.4,-18.3,-17.7,-16.7,-17.2,-16.7,-16.1,-15.8,-19.1,-19.2,-18.7,-16.6,-17.1,-16.7,-19.1,-18.7,-18.1,-17.6,-18.2,-19.1,-19,-18.7,-14.5];
const c26By = [-21.8,-21.7,-21.9,-22.3,-22.3,-22.6,-22.7,-22.8,-22.9,-23,-23.3,-23.6,-23.7,-23.3,-24,-24.2,-24.2,-24.5,-24.1,-24.4,-24.8,-24.9,-24.8,-24.7,-24.8,-25.3,-25.1,-25.1,-25.6,-25.6,-25.5,-25.6,-25.8,-26.1,-25.8,-26,-26.4,-26.6,-26.8,-27.3,-27.9,-27.9,-28.7,-28.7,-29.1,-29.2,-23.6];
const c26R = [-15.5,-21.2,-16.9,-22.1,-14.4,-22.6,-14.4,-23.3,-17.7,-22.9,-17.1,-23.2,-16.4,-23.3,-16,-23.7,-19.4,-23.7,-17.5,-24.1,-16.6,-24.1,-17.7,-25,-14.6,-25.2,-16,-25.9,-18.2,-26.3,-18.7,-26.7,-17.9,-26.9,-17.4,-26.7,-16.8,-27.3,-18.4,-27.3,-18.8,-27.8,-17.7,-28.1,-17.8,-28.4,-18.6,-28.6];

const c27Bx = [-7,-7.5,-7.2,-5.3,-6.4,-5.7,-6.7,-6.1,-7.4,-8.1,-6.8,-6,-7.4,-8.3,-8.2,-6.4,-7.4,-7.8,-6.3,-6.6,-6.5,-9.1,-9.4,-8.6,-8.4,-8.5,-7.1,-6.8,-7.9,-8.5,-8.8,-8.9,-8.2,-7.5,-7.3,-7.9,-7.5,-8.4,-8.2,-7.9,-8.3,-8];
const c27By = [-28.6,-29.2,-30.4,-30.8,-30.8,-31.1,-31,-31.3,-31.1,-31.2,-31.5,-32,-32.3,-32.4,-32.9,-32.6,-33,-33.2,-33.7,-33.8,-34.1,-33.8,-34.2,-33.7,-33.8,-34.3,-34.1,-34.5,-34.5,-34.8,-35.1,-35.5,-35.3,-35.2,-35.6,-35.6,-35.9,-36.1,-36.3,-36.5,-37,-36.9];
const c27R = [-7.1,-28.9,-6.9,-29.2,-6.3,-28.8,-5.9,-29.3,-5.2,-29.3,-7.3,-29.7,-6.7,-29.7,-6.3,-30.3,-5.7,-30.5,-7.5,-31.5,-5.6,-31.8,-7.8,-32.1,-7,-32.1,-6.7,-33.1,-8.9,-33.3,-9.2,-34.2,-7.8,-34.2,-7.4,-34.5,-9,-34.8,-9.5,-35.2,-8.1,-35.7,-8,-36.7];

const c28Bx = [0.6,-0.7,-0.3,0.4,0.3,-0.3,0.9,2,0,0.3,1.4,1.7,-0.4,0.8,-1.3,0.6,2,1.1,0.7,0,-1.1,-0.6,-1.3,-0.5,0.3,1,1.3,1.8,2.1,-1.4,-0.7,-0.1,-0.2,0.3,0.1,0.8,1.1,-0.5,0.3,0.5,1.1,0.9,-0.8,-1,-0.7,-0.3,0.4,1,-0.4,-0.1,0.3,0,0.8,-0.3,-0.2,0.5,0.2];
const c28By = [-14.2,-14.7,-14.9,-14.7,-15,-15.4,-15.5,-15.3,-15.6,-16,-15.9,-16,-16.1,-16.2,-16.6,-16.9,-17.2,-17.3,-17.5,-17.4,-17.6,-18,-18.3,-18.2,-18,-18,-18.3,-18.4,-18.6,-18.8,-18.4,-18.6,-19,-18.6,-19.1,-18.6,-18.8,-19.7,-19.6,-19.9,-19.5,-20,-21.1,-21.6,-21.6,-21.2,-21,-21.3,-22.2,-22.1,-22,-22.4,-22.6,-22.7,-22.9,-22.8,-22.5];
const c28R = [-0.8,-14.2,-0.2,-13.9,0.3,-14.2,-0.1,-14.4,-1,-14.6,0,-15,2.2,-15,1.2,-15.2,-1.7,-15.5,1,-16,2.8,-16,1.7,-16.6,1,-16.7,-0.4,-16.7,-0.6,-16.9,0.9,-17.1,-0.9,-17.5,1.3,-17.7,2.1,-17.6,0,-17.9,-1,-18.1,-1,-18.7,-0.7,-20.2,-0.2,-20.2,0,-20.6,0.6,-20.3,-0.5,-20.8,-0.2,-21.8,0.5,-21.7];

const c29Bx = [9,12.4,10,9.2,8.3,8.2,8.9,9.5,10.5,11,11.4,12,11.6,8.8,9.4,9.6,10,10.6,11,11.4,11.8,10.4,10,10.3,12.3,13.5,11.6,11.8,12.2,12.4,12.4,13.1,13.5,13.3,14.1,14.5,14.8,15.8,16.7,16.1,15.8,15.4,16.9,14.7,14.8,12.7];
const c29By = [-13.4,-15.9,-15.8,-16,-16.4,-16.6,-16.5,-16.3,-16,-16.2,-16.1,-16.6,-16.4,-17,-17.2,-17.4,-16.6,-17,-16.8,-17.1,-17.3,-17.5,-17.9,-18.2,-17.5,-17.8,-18.4,-18.9,-18.1,-18.5,-18.9,-18.5,-18.6,-19,-19,-19.3,-18.6,-17.5,-18,-18.3,-18.6,-18.7,-18.9,-20.3,-20.2,-20.4];
const c29R = [9,-13.1,8.4,-14.2,9.6,-14.2,10.5,-14.3,8,-14.8,9.4,-14.9,11.3,-15.2,11,-15.4,13.8,-16.3,13.4,-16.7,8.5,-17.3,12.3,-17.3,10.8,-17.9,11,-18.3,11.5,-18,16.3,-17.9,14.4,-18.3,13.5,-19.3,14.8,-19.4,15.6,-19,16.4,-18.8,16.4,-19,17.4,-18.5,17.5,-18.9,17.2,-19,17.5,-19.5,11.8,-20.1,13,-20.2,13.1,-20.5,13.9,-20.1,14.3,-20.5];

const c30Bx = [6.3,4.9,5.4,5.3,5.9,6,5.3,3.4,4.4,2.5,5.3,5.1,1.9,3.1,2.1,3.1,2.5,3.4,1.8,1.3,2.7,3.5,4.1,4.1,2.6,2.6,3.2,3.7,4.5,5.1,5,2.7,4.6,3.9,1.9,2.3,1.4,1.7,2,2.8,3,3.4,3.7,3.3,1.6,2.3,1.6,2,2.2,3.8];
const c30By = [-28.4,-28.2,-28.5,-28.9,-28.9,-29.5,-29.7,-29.4,-30.2,-30.1,-30.8,-30.9,-31,-30.7,-31.4,-31.2,-31.8,-31.6,-31.9,-32.3,-32.1,-32,-32.1,-32.4,-32.7,-33,-32.7,-32.7,-33,-32.9,-33.2,-33.4,-33.7,-34,-34.2,-34.1,-34.8,-34.7,-34.9,-35,-34.8,-34.6,-35.1,-35.1,-35.3,-35.3,-35.7,-35.8,-35.6,-35.7];
const c30R = [5.6,-27.3,6.2,-27.3,6.2,-27.7,3.8,-28.2,5,-28.4,5.7,-28.3,6,-28.4,1.4,-29.8,2.9,-29.8,3.8,-29.9,4.1,-30.1,4.9,-29.8,2.3,-30.9,3.9,-30.9,5.5,-31.3,5.6,-31.8,4.6,-31.7,4.6,-32.5,1.6,-32.5,1.8,-32.8,1.3,-33,2.8,-33.8,1.3,-34.2,2.4,-34.6,2.1,-35.1,1.1,-35.3];

const c31Bx = [9.8,11.6,13.7,14,14.4,13,12.7,13.4,12.3,13,12.1,12.4,12.7,12.2,12.5,12.8,13.2,13.6,13.8,13.5,12.4,12.8,14.5,15,15.6,15.1,15.3,14.3,14.2,14.7,15.3,14.1,14,16,16.1,16.5,16.5,16.9,17.4,16.9,17.9,16.3,16.7,17.2,17.7,16.7,17.2,16.7,15.9,12.8];
const c31By = [-28.7,-29.1,-27.4,-27.7,-27.5,-27.7,-27.9,-28,-28.4,-28.4,-29,-28.9,-29,-29.2,-29.3,-29.2,-29,-28.4,-28.9,-29.5,-29.8,-30,-28.3,-27.7,-27.7,-28.2,-28.6,-28.7,-29.1,-29.4,-28.9,-29.8,-30.1,-30,-29.7,-27.5,-27.9,-27.8,-28,-28.6,-28.7,-29,-29,-28.9,-29.2,-29.7,-29.4,-30.2,-31.3,-30];
const c31R = [16.5,-26.7,13.4,-27.1,11.6,-28.1,11.2,-28.2,10.2,-28.7,11.1,-29,11.3,-29.1,11.5,-30,14.9,-28.9,14.8,-30,14.3,-30.3,15.1,-30.4,17.4,-29.7,17,-30,18,-29.9,17.4,-30.4,13.6,-31.3,14.5,-31.3,16,-31.2];

// blue points inside the solid blobs, x,y pairs
const denseUpper = [-19.3,21.6,-18.9,21.4,-18.5,21.3,-21,22.9,-20.9,22.6,-21.5,23.1,-22.2,23.9,-17.7,20.9,-17.1,20.7,-10.1,31.6,-9.8,31.5,-10,31.2,4.2,30.5,4.4,30.3,4.6,30.4,4.5,30.1,4.3,30,4.2,29.9,4.7,30.2,6,31.2,6,31.5,5.6,30.9,5.8,30.9,5.5,30.3,6.1,31.6,6.4,31.3,-5.9,23,-5.7,22.9,-6,22.6,-5.6,23,-5.8,22.5,-5.5,22.5,-5.7,21.9,-5.3,22.1,-2.9,27.5,-2.7,27.3,17,24.8,17.3,24.9,17,24.3,17.4,24.3,17.7,24.1,17.2,24,17.6,23.8,17.1,23.8,17.7,24.5,25.8,14.9,26.1,14.8,26.4,14.9,25.9,14.3,26.3,14.1,26,14.1,26.6,14.5,26.7,14.8,26,15];
const denseMiddle = [-32.2,5.2,-32,5.4,-32.4,4.9,-31.9,4.7,-32.2,4.7,-29.7,6.3,-29.4,5.9,-20,1.5,-19.7,1.6,-19.4,1.7,-19.9,1.1,-19.6,1.3,-19.3,1.1,-19.7,0.9,-19.1,1.5,-18.6,1.5,-20,0.9,-18.9,1,-17.2,1.5,-17,1.3,-16,9.3,-15.7,9.2,-15.3,9.5,-15,9.4,-14.6,9.2,-15.5,8.7,-15.1,8.7,-14.7,8.8,-15.4,9.9,-14.9,9.9,-14.5,9.9,-15.1,8.1,-14.8,8.2,-16.3,9.5,-17.9,10.1,-18.1,10.7,-17.7,10.2,-5.9,12.7,-5.6,12.5,-5.2,12.9,-5.1,12.3,-4.8,12.6,-4.5,12.2,-4,12.4,-4.1,11.9,-4.4,11.6,-3.9,11.7,-4.1,12.7,-5.6,11,-5,10.8,-4.8,11,-4.3,10.8,-4,10.5,-4.5,10.2,-3.8,10.9,-5.8,12,-5.3,11.5,-3.6,12.7];
const denseCentre = [-0.8,-3.1,-0.4,-3,0,-2.8,0.4,-2.9,0.8,-3,-0.9,-3.5,-0.5,-3.3,-0.1,-3.3,0.3,-3.1,0.7,-3.3,0.9,-3.5,-0.3,-3.6,0,-3.6,0.4,-3.5,-0.4,-4,0,-3.9,0.7,-2.2,1,-1.9,1.3,-2.1,0.5,-2.6,-2.1,-4.9,-2.4,-5.3,-2,-5.1,6.1,-7,6.4,-6.9,6.7,-7,7,-6.9,6.3,-7.5,6.6,-7.5,7,-7.5,7.3,-6.6,7.5,-6.1,7.8,-5.8,8.3,-5.3,8.5,-4.9,6.1,-8.4,6.6,-8.5,6.9,-8.3,6.1,-9.9,5.9,-9.8,17.9,0.5,18.4,0.3,17.8,0.1,16.5,-1.5,16.4,-1.6,16.2,-1.7,30,3.8,30.6,3.4,29.4,3.3,30.5,3.9];
const denseLower = [9.1,-16.4,9.7,-16.6,10.2,-16.3,10.6,-16.4,11.1,-16.5,9.3,-16.9,9.9,-16.9,10.4,-16.7,10.8,-17.2,11.2,-16.9,11.6,-16.9,10.3,-17.2,12.5,-18.3,12.1,-18.6,12.9,-18.8,10.2,-17.6,-0.2,-22.4,0.1,-22.2,0.3,-22.6,0.5,-22.3,-0.1,-22.7,0.1,-22.8,0.6,-22.6,-0.6,-21.4,-0.2,-21.5,0,-21.3,0.4,-21.2,-0.1,-18.3,0.6,-18.4,12.4,-28.5,12.6,-28.7,12.3,-29.3,12.6,-29.2,12.9,-28.7,12.8,-29,13.1,-28.9,14.2,-28.5,14,-29,16.8,-29,17,-29.2,16.9,-29.4,17.3,-29.3,16.6,-29.3,13.4,-28.6,-15.3,-5.2,-13.3,-5.2,-13,-5.2,-12.7,-5.1,-13.1,-5.4,-14.9,-5.6,-14.7,-5.6,-15,-5.5,-14.6,-5.4,-15.5,-7,-15.4,-7.3,-29.3,-14.5,-29.2,-15.2,-29.3,-15.9,-28.9,-15.8,-29,-15.3,-29.2,-16.2,-27.1,-15.4,-22.6,-14.5,-22.2,-14.6,-23.1,-15.6,-23.3,-15.8,-19,-25.9,-18.9,-26.2,-18.6,-25.9,-16.8,-25.4,-16.6,-25.2,-16.9,-25.9,-16.4,-25,-16.1,-24.5,-18.3,-24.9,-18.1,-24.9,-19,-29,-18.9,-28.9,-16.1,-21.9,-16.2,-22.2,-6.5,-11.2,-6.2,-11.2,-6.4,-11.7,-6.1,-11.8,-6.7,-11.4,-10.2,-15.6,-9.9,-15.5,-10.1,-15.9,-9.7,-15.9,-9.5,-15.5,-9.1,-14.7,-9,-14,-8.7,-35.1,-8.5,-35.2,-8.7,-35.5,-8.4,-35.6,-8.5,-35.9,-8.1,-36.2,-8.2,-36.6,-8,-36.3,-7.6,-35.7,-8.3,-36.9,2,-35.2,1.8,-35.4,2.1,-35.5,1.8,-35,3.1,-31.5,3.1,-31.8,3,-32,2.9,-31,4,-32.3];

const blueLists = [
  [c01Bx,c01By],[c02Bx,c02By],[c03Bx,c03By],[c04Bx,c04By],[c05Bx,c05By],[c06Bx,c06By],[c07Bx,c07By],[c08Bx,c08By],
  [c09Bx,c09By],[c10Bx,c10By],[c11Bx,c11By],[c12Bx,c12By],[c13Bx,c13By],[c14Bx,c14By],[c15Bx,c15By],[c16Bx,c16By],
  [c17Bx,c17By],[c18Bx,c18By],[c19Bx,c19By],[c20Bx,c20By],[c21Bx,c21By],[c22Bx,c22By],[c23Bx,c23By],[c24Bx,c24By],
  [c25Bx,c25By],[c26Bx,c26By],[c27Bx,c27By],[c28Bx,c28By],[c29Bx,c29By],[c30Bx,c30By],[c31Bx,c31By]
];
const densePairs = [denseUpper, denseMiddle, denseCentre, denseLower];
const redLists = [c01R,c02R,c03R,c04R,c05R,c06R,c07R,c08R,c09R,c10R,c11R,c12R,c13R,c14R,c15R,c16R,c17R,c18R,c19R,c20R,c21R,c22R,c23R,c24R,c25R,c26R,c27R,c28R,c29R,c30R,c31R];

/* ── Helpers ── */
function desdePares(listas) {
  const out = [];
  listas.forEach(lista => {
    for (let i = 0; i + 1 < lista.length; i += 2) out.push({ x: lista[i], y: lista[i + 1] });
  });
  return out;
}

function puntosAzules() {
  const out = [];
  blueLists.forEach(([xs, ys]) => {
    xs.forEach((x, i) => { if (ys[i] !== undefined) out.push({ x, y: ys[i] }); });
  });
  return out.concat(desdePares(densePairs));
}

// caja completa alrededor del área del gráfico
const marco = {
  id: 'marco',
  afterDraw(chart) {
    const { ctx, chartArea: a } = chart;
    ctx.save();
    ctx.strokeStyle = '#000';
    ctx.lineWidth = 4.6;
    ctx.strokeRect(a.left, a.top, a.right - a.left, a.bottom - a.top);
    ctx.restore();
  }
};

const ejeComun = {
  type: 'linear',
  border: { display: false },
  ticks: { display: false },
  grid: { drawOnChartArea: false, drawTicks: true, tickLength: 17, tickWidth: 4.6, tickColor: '#000' }
};

/* ── Init ── */
new Chart(document.getElementById('grafico').getContext('2d'), {
  type: 'scatter',
  data: {
    datasets: [
      { label: 'blue', data: puntosAzules(), backgroundColor: '#0000ff', pointRadius: 5.9, pointBorderWidth: 0, order: 2 },
      { label: 'red', data: desdePares(redLists), backgroundColor: '#ff0000', pointRadius: 6, pointBorderWidth: 0, order: 1 }
    ]
  },
  options: {
    responsive: false,
    animation: false,
    layout: { padding: { top: 26, right: 28, left: 0, bottom: 0 } },
    plugins: { legend: { display: false }, tooltip: { enabled: false } },
    scales: {
      x: {
        ...ejeComun,
        min: -42.67, max: 40.04,
        afterBuildTicks: s => { s.ticks = xTicks.map(value => ({ value })); },
        afterFit: s => { s.height = 31; }
      },
      y: {
        ...ejeComun,
        min: -40.81, max: 43.26,
        afterBuildTicks: s => { s.ticks = yTicks.map(value => ({ value })); },
        afterFit: s => { s.width = 28; }
      }
    }
  },
  plugins: [marco]
});
</script>
</body>
</html>
